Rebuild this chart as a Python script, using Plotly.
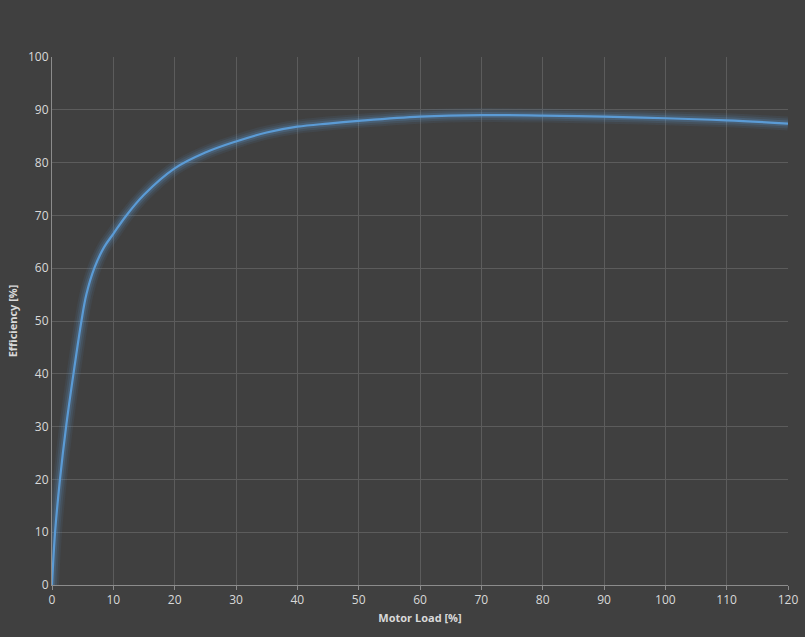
import plotly.graph_objects as go

# === DATA ===
motor_load = [0, 0.5, 1.3, 2.3, 3.5, 4.8, 5.6, 6.9, 8.5, 10, 12, 15, 20, 25, 30,
              35, 40, 45, 50, 60, 70, 80, 90, 100, 110, 120]
efficiency = [0, 10, 20, 30, 40, 50, 55, 60, 64, 66.5, 69.8, 73.9, 78.9, 81.9, 84,
              85.7, 86.8, 87.4, 87.9, 88.7, 89.0, 88.9, 88.7, 88.4, 88.0, 87.4]

x_ticks = list(range(0, 121, 10))
y_ticks = list(range(0, 101, 10))

bg = "#404040"
grid = "#5c5c5c"
axis_line = "#8c8c8c"
txt = "#d9d9d9"
blue = "#5b9bd5"

fig = go.Figure()

# soft glow under the line
for w, a in [(14, 0.08), (10, 0.12), (6, 0.2)]:
    fig.add_trace(go.Scatter(
        x=motor_load, y=efficiency, mode="lines",
        line=dict(color=f"rgba(91,155,213,{a})", width=w, shape="spline", smoothing=1.0),
        hoverinfo="skip", showlegend=False,
    ))

fig.add_trace(go.Scatter(
    x=motor_load, y=efficiency, mode="lines", name="Efficiency",
    line=dict(color=blue, width=2.2, shape="spline", smoothing=1.0),
    showlegend=False,
))

fig.update_layout(
    width=805, height=637,
    paper_bgcolor=bg, plot_bgcolor=bg,
    margin=dict(l=52, r=17, t=57, b=52),
    font=dict(family="Open Sans, DejaVu Sans, sans-serif", color=txt, size=12),
    xaxis=dict(
        range=[0, 120], tickvals=x_ticks, showgrid=True, gridcolor=grid, gridwidth=1,
        showline=True, linecolor=axis_line, linewidth=1, zeroline=False,
        ticks="outside", ticklen=4, tickcolor=axis_line, automargin=False,
        tickfont=dict(size=12, color=txt),
        title=dict(text="<b>Motor Load [%]</b>", font=dict(size=11, color=txt), standoff=6),
    ),
    yaxis=dict(
        range=[0, 100], tickvals=y_ticks, showgrid=True, gridcolor=grid, gridwidth=1,
        showline=True, linecolor=axis_line, linewidth=1, zeroline=False,
        ticks="", tickfont=dict(size=12, color=txt), automargin=False,
        title=dict(text="<b>Efficiency [%]</b>", font=dict(size=11, color=txt), standoff=8),
    ),
)

# drop the default page margin so the figure fills the window
fig.write_html("out.html", config={"displayModeBar": False},
               post_script="document.body.style.margin='0';document.body.style.background='#404040';")
